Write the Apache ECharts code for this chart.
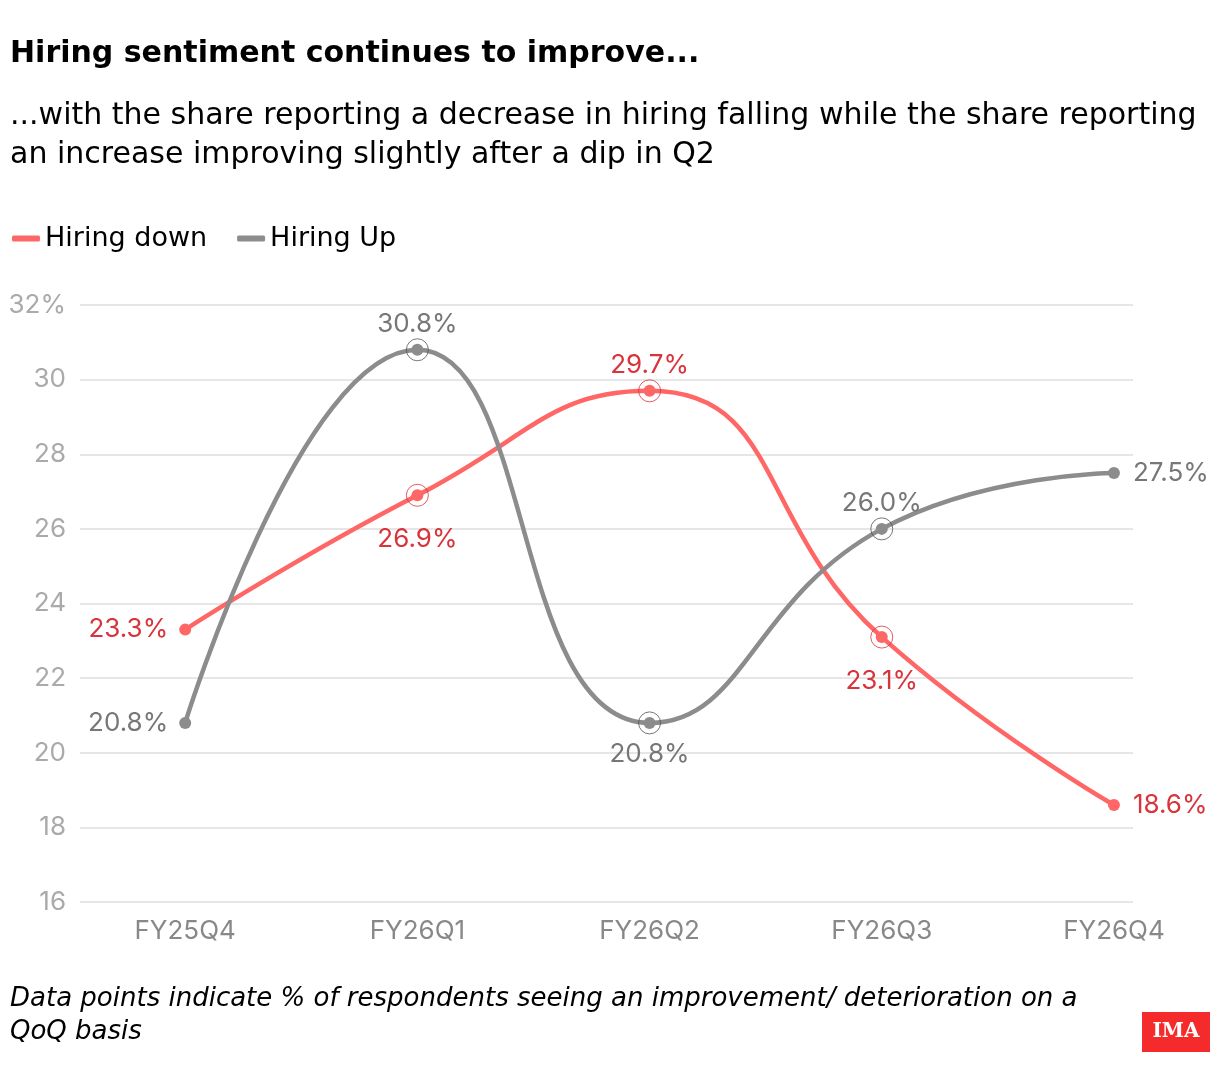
<!DOCTYPE html>
<html><head><meta charset="utf-8">
<script src="https://cdn.jsdelivr.net/npm/echarts@6/dist/echarts.min.js"></script>
<style>html,body{margin:0;padding:0;background:#fff}#c{width:1220px;height:1086px}</style>
</head><body><div id="c"></div>
<script>
const categories = ['FY25Q4','FY26Q1','FY26Q2','FY26Q3','FY26Q4'];
const hiringDown = [23.3, 26.9, 29.7, 23.1, 18.6];
const hiringUp = [20.8, 30.8, 20.8, 26.0, 27.5];
const downLabelPos = ['left','bottom','top','bottom','right'];
const upLabelPos = ['left','top','bottom','top','right'];
const yTicks = [16,18,20,22,24,26,28,30,32];
const ringIdx = [1,2,3];

const FONT = 'Inter';
const HFONT = 'DejaVu Sans';
const RED = '#ff6666', RED_T = '#d8343c';
const GRAY = '#8c8c8c', GRAY_T = '#777777';

function lineData(vals, pos, bottomDist){
  const dist = {left:11, right:13, top:7, bottom:bottomDist};
  return vals.map((v,i)=>({value:[i,v], label:{position:pos[i], distance:dist[pos[i]]}}));
}
function ringData(vals){ return ringIdx.map(i=>[i, vals[i]]); }

const chart = echarts.init(document.getElementById('c'));
chart.setOption({
  animation:false,
  textStyle:{fontFamily:FONT},
  title:[
    {text:'Hiring sentiment continues to improve...', left:10, top:39, padding:0,
     textStyle:{fontFamily:HFONT,fontSize:30,fontWeight:'bold',color:'#000'}},
    {text:'...with the share reporting a decrease in hiring falling while the share reporting\nan increase improving slightly after a dip in Q2', left:10, top:97, padding:0,
     textStyle:{fontFamily:HFONT,fontSize:30,fontWeight:'normal',color:'#000',lineHeight:39}},
    {text:'Data points indicate % of respondents seeing an improvement/ deterioration on a\nQoQ basis', left:10, top:983, padding:0,
     textStyle:{fontFamily:HFONT,fontSize:26,fontStyle:'italic',fontWeight:'normal',color:'#000',lineHeight:33}}
  ],
  legend:{
    left:12, top:225, padding:0, itemWidth:28, itemHeight:6, itemGap:30,
    data:[{name:'Hiring down',icon:'roundRect'},{name:'Hiring Up',icon:'roundRect'}],
    textStyle:{fontFamily:HFONT,fontSize:27,color:'#000'}
  },
  grid:{left:80, right:87, top:305, bottom:184},
  xAxis:{
    type:'value', min:-0.453, max:4.082,
    splitLine:{show:false}, axisLine:{show:false}, axisTick:{show:false},
    axisLabel:{customValues:[0,1,2,3,4], formatter:v=>categories[Math.round(v)],
      fontSize:26, color:'#888', margin:16, fontFamily:FONT}
  },
  yAxis:{
    type:'value', min:16, max:32, interval:2,
    axisLine:{show:false}, axisTick:{show:false},
    splitLine:{lineStyle:{color:'#e6e6e6',width:2}},
    axisLabel:{formatter:v=>v===yTicks[yTicks.length-1]?v+'%':String(v),
      fontSize:26, color:'#aaaaaa', margin:14, fontFamily:FONT}
  },
  series:[
    {name:'Hiring down', type:'line', smooth:true, data:lineData(hiringDown, downLabelPos, 25),
     color:RED, lineStyle:{width:4.5,color:RED}, symbol:'circle', symbolSize:12,
     itemStyle:{color:RED},
     label:{show:true, formatter:p=>p.value[1].toFixed(1)+'%', fontSize:26, color:RED_T, fontFamily:FONT},
     z:3},
    {name:'Hiring Up', type:'line', smooth:true, data:lineData(hiringUp, upLabelPos, 12),
     color:GRAY, lineStyle:{width:4.5,color:GRAY}, symbol:'circle', symbolSize:12,
     itemStyle:{color:GRAY},
     label:{show:true, formatter:p=>p.value[1].toFixed(1)+'%', fontSize:26, color:GRAY_T, fontFamily:FONT},
     z:3},
    {name:'ringDown', type:'scatter', data:ringData(hiringDown), symbol:'circle', symbolSize:22,
     itemStyle:{color:'rgba(0,0,0,0)', borderColor:RED_T, borderWidth:1}, silent:true, z:4},
    {name:'ringUp', type:'scatter', data:ringData(hiringUp), symbol:'circle', symbolSize:22,
     itemStyle:{color:'rgba(0,0,0,0)', borderColor:'#555', borderWidth:1}, silent:true, z:4}
  ],
  graphic:[
    {type:'rect', shape:{x:1142,y:1012,width:68,height:40}, style:{fill:'#f52a2a'}},
    {type:'text', x:1176, y:1032, style:{text:'IMA', fill:'#fff', font:'bold 20px "DejaVu Serif"', textAlign:'center', textVerticalAlign:'middle'}}
  ]
});
</script></body></html>
